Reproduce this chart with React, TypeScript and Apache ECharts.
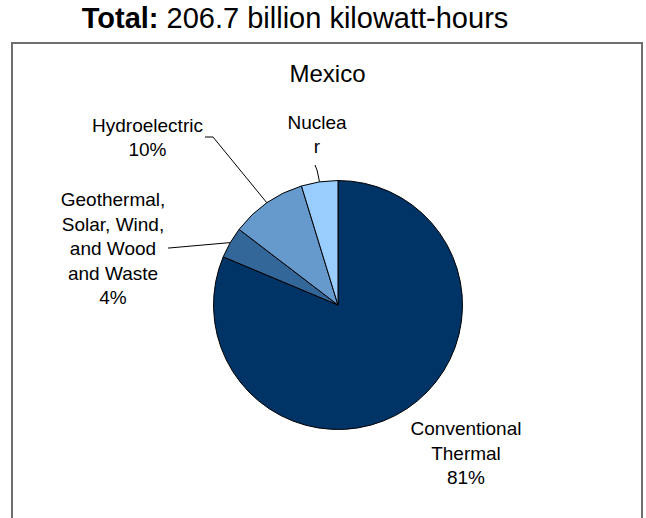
import React, { useEffect, useRef } from "react";
import * as echarts from "echarts";

// ---- data ----
const categories = [
  "Conventional\nThermal",
  "Geothermal,\nSolar, Wind,\nand Wood\nand Waste",
  "Hydroelectric",
  "Nuclea\nr",
];
const values = [168.1, 8.4, 20.4, 9.8]; // billion kWh
const showPercent = [true, true, true, false];
const showLeader = [false, true, true, true];
const sliceColors = ["#003366", "#336699", "#6699CC", "#99CCFF"];
const totalLabel = "Total:";
const totalValue = "206.7 billion kilowatt-hours";
const countryName = "Mexico";

// ---- layout (label anchors, not data) ----
const labelCenters: number[][] = [
  [466, 453],
  [113, 248.5],
  [147.5, 137.5],
  [317, 134.5],
];
const leaderTails: (number[][] | null)[] = [
  null,
  [[169, 248], [168, 248]],
  [[213, 137], [205, 137]],
  [[317, 170], [315, 165]],
];

const FONT = '"Liberation Sans", Arial, sans-serif';

export default function App() {
  const ref = useRef<HTMLDivElement>(null);

  useEffect(() => {
    if (!ref.current) return;
    const chart = echarts.init(ref.current, null, { renderer: "svg" });
    const data = categories.map((name, i) => ({
      name,
      value: values[i],
      itemStyle: { color: sliceColors[i] },
      label: { formatter: showPercent[i] ? "{b}\n{d}%" : "{b}" },
      labelLine: { show: showLeader[i] },
    }));
    chart.setOption({
      animation: false,
      backgroundColor: "#ffffff",
      graphic: [
        {
          type: "rect",
          shape: { x: 12, y: 43, width: 630, height: 500 },
          style: { fill: "none", stroke: "#6e6e6e", lineWidth: 2 },
          silent: true,
        },
        {
          type: "text",
          x: 295,
          y: 18,
          style: {
            text: "{b|" + totalLabel + "} " + totalValue,
            align: "center",
            verticalAlign: "middle",
            fontFamily: FONT,
            fontSize: 29,
            fill: "#000",
            rich: {
              b: { fontWeight: "bold", fontSize: 29, fontFamily: FONT, fill: "#000" },
            },
          },
        },
        {
          type: "text",
          x: 327.5,
          y: 73,
          style: {
            text: countryName,
            align: "center",
            verticalAlign: "middle",
            fontFamily: FONT,
            fontSize: 24,
            fill: "#000",
          },
        },
      ],
      series: [
        {
          type: "pie",
          center: [338, 305],
          radius: 124.5,
          startAngle: 90,
          clockwise: true,
          percentPrecision: 0,
          avoidLabelOverlap: false,
          itemStyle: { borderColor: "#000", borderWidth: 1 },
          emphasis: { disabled: true },
          label: {
            show: true,
            position: "outside",
            color: "#000",
            fontFamily: FONT,
            fontSize: 19,
            lineHeight: 24.5,
            align: "center",
          },
          labelLine: {
            show: true,
            lineStyle: { color: "#000", width: 1 },
          },
          labelLayout: (params: any) => {
            const i = params.dataIndex;
            const c = labelCenters[i];
            const res: any = {
              x: c[0],
              y: c[1],
              align: "center",
              verticalAlign: "middle",
            };
            const tail = leaderTails[i];
            if (tail && params.labelLinePoints && params.labelLinePoints.length) {
              res.labelLinePoints = [params.labelLinePoints[0], ...tail];
            }
            return res;
          },
          data,
        },
      ],
    });
    return () => chart.dispose();
  }, []);

  return (
    <div
      ref={ref}
      style={{ position: "fixed", left: 0, top: 0, width: 646, height: 518 }}
    />
  );
}
